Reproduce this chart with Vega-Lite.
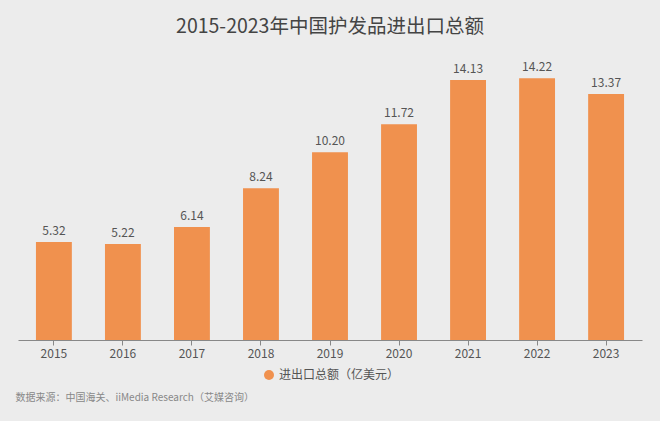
{
  "$schema": "https://vega.github.io/schema/vega-lite/v6.json",
  "autosize": "none",
  "width": 624,
  "height": 300,
  "padding": {"left": 18, "top": 40, "right": 18, "bottom": 81},
  "background": "#ececec",
  "view": {"stroke": null},
  "title": {
    "text": "2015-2023年中国护发品进出口总额",
    "font": "Noto Sans CJK SC",
    "fontSize": 19.5,
    "fontWeight": "normal",
    "color": "#444444",
    "anchor": "middle",
    "offset": 3
  },
  "data": {
    "values": [
      {"year": "2015", "value": 5.32, "series": "进出口总额（亿美元）"},
      {"year": "2016", "value": 5.22, "series": "进出口总额（亿美元）"},
      {"year": "2017", "value": 6.14, "series": "进出口总额（亿美元）"},
      {"year": "2018", "value": 8.24, "series": "进出口总额（亿美元）"},
      {"year": "2019", "value": 10.20, "series": "进出口总额（亿美元）"},
      {"year": "2020", "value": 11.72, "series": "进出口总额（亿美元）"},
      {"year": "2021", "value": 14.13, "series": "进出口总额（亿美元）"},
      {"year": "2022", "value": 14.22, "series": "进出口总额（亿美元）"},
      {"year": "2023", "value": 13.37, "series": "进出口总额（亿美元）"}
    ]
  },
  "encoding": {
    "x": {
      "field": "year",
      "type": "nominal",
      "scale": {"paddingInner": 0.48, "paddingOuter": 0.26},
      "axis": {
        "title": "数据来源：中国海关、iiMedia Research（艾媒咨询）",
        "titleAnchor": "start",
        "titleFont": "Noto Sans CJK SC",
        "titleFontSize": 10,
        "titleFontWeight": "normal",
        "titleColor": "#888888",
        "titlePadding": 33,
        "titleX": -3,
        "labelAngle": 0,
        "labelFont": "Noto Sans CJK SC",
        "labelFontSize": 12,
        "labelColor": "#555555",
        "labelPadding": 3,
        "domainColor": "#888888",
        "tickColor": "#888888",
        "tickSize": 5,
        "grid": false
      }
    },
    "y": {
      "field": "value",
      "type": "quantitative",
      "scale": {"domain": [0, 16.3]},
      "axis": null
    }
  },
  "layer": [
    {
      "mark": {"type": "bar", "color": "#f0914e"},
      "encoding": {
        "color": {
          "field": "series",
          "type": "nominal",
          "scale": {"range": ["#f0914e"]},
          "legend": {
            "title": null,
            "orient": "none",
            "legendX": 245,
            "legendY": 329,
            "symbolType": "circle",
            "symbolSize": 100,
            "labelFont": "Noto Sans CJK SC",
            "labelFontSize": 12,
            "labelColor": "#555555"
          }
        }
      }
    },
    {
      "mark": {
        "type": "text",
        "baseline": "bottom",
        "dy": -4,
        "font": "Noto Sans CJK SC",
        "fontSize": 12,
        "color": "#555555"
      },
      "encoding": {
        "text": {"field": "value", "type": "quantitative", "format": ".2f"}
      }
    }
  ]
}
